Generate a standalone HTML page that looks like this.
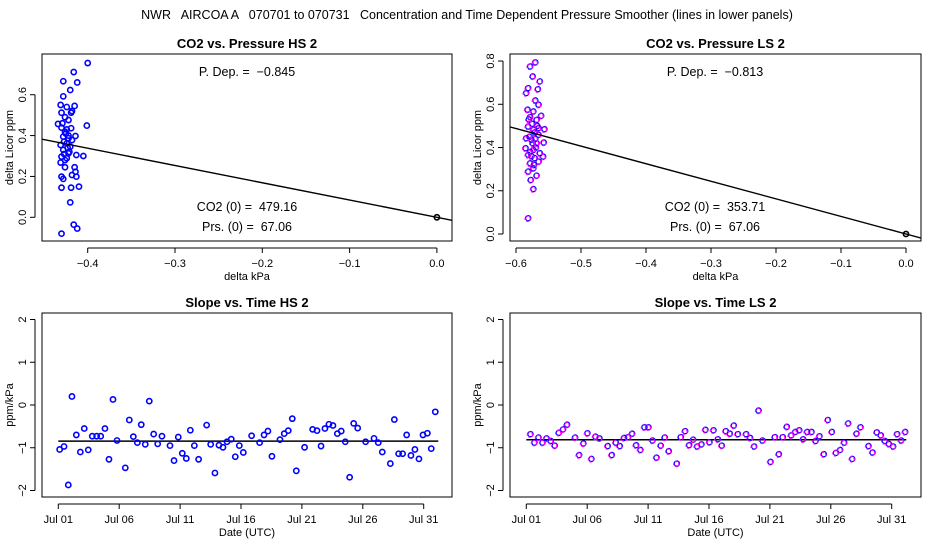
<!DOCTYPE html>
<html><head><meta charset="utf-8"><style>
body{margin:0;background:#fff}
svg{display:block;font-family:"Liberation Sans",sans-serif}
</style></head><body>
<svg id="c" width="936" height="540" xmlns="http://www.w3.org/2000/svg">
<rect width="936" height="540" fill="#fff"/>
<text x="467" y="19" text-anchor="middle" font-size="12.5" style="white-space:pre">NWR   AIRCOA A   070701 to 070731   Concentration and Time Dependent Pressure Smoother (lines in lower panels)</text>
</svg>
<script>
// Top-left: CO2 vs Pressure HS 2
const hsPx=[-0.400,-0.416,-0.428,-0.412,-0.420,-0.428,-0.431,-0.415,-0.424,-0.430,-0.419,-0.426,-0.422,-0.434,-0.401,-0.430,-0.419,-0.426,-0.414,-0.428,-0.422,-0.418,-0.431,-0.424,-0.420,-0.428,-0.422,-0.430,-0.413,-0.405,-0.424,-0.431,-0.426,-0.415,-0.414,-0.418,-0.413,-0.430,-0.428,-0.430,-0.419,-0.410,-0.420,-0.416,-0.412,-0.430,-0.425,-0.427,-0.423,-0.421,-0.426,-0.424,-0.429,-0.418,-0.422,-0.427];
const hsPy=[0.755,0.711,0.666,0.660,0.623,0.592,0.550,0.545,0.540,0.512,0.512,0.490,0.476,0.457,0.449,0.439,0.436,0.419,0.398,0.395,0.387,0.378,0.354,0.362,0.346,0.330,0.313,0.297,0.305,0.300,0.289,0.268,0.245,0.245,0.223,0.207,0.199,0.199,0.188,0.145,0.145,0.150,0.073,-0.036,-0.055,-0.080,0.410,0.370,0.340,0.320,0.280,0.430,0.460,0.520,0.400,0.310];
const hsSlope=-0.845;
// Top-right: CO2 vs Pressure LS 2
const lsPx=[-0.571,-0.579,-0.575,-0.564,-0.582,-0.585,-0.567,-0.571,-0.566,-0.583,-0.574,-0.562,-0.579,-0.569,-0.557,-0.582,-0.574,-0.566,-0.585,-0.577,-0.569,-0.558,-0.586,-0.574,-0.564,-0.582,-0.559,-0.572,-0.566,-0.579,-0.574,-0.582,-0.569,-0.578,-0.574,-0.582,-0.576,-0.572,-0.580,-0.568,-0.575,-0.579,-0.571,-0.577,-0.570,-0.581,-0.566,-0.573];
const lsPy=[0.794,0.775,0.729,0.706,0.675,0.652,0.670,0.618,0.598,0.575,0.567,0.547,0.541,0.528,0.485,0.497,0.482,0.459,0.443,0.436,0.420,0.423,0.397,0.389,0.374,0.366,0.358,0.351,0.335,0.327,0.304,0.289,0.270,0.250,0.208,0.073,0.510,0.470,0.450,0.500,0.420,0.380,0.440,0.360,0.400,0.530,0.490,0.320];
const lsSlope=-0.813;
// Bottom-left: slope vs time HS 2
const hsDay=[1.11,1.47,1.82,2.12,2.48,2.81,3.13,3.46,3.79,4.15,4.48,4.83,5.16,5.49,5.82,6.50,6.83,7.16,7.49,7.81,8.14,8.47,8.83,9.16,9.51,10.17,10.50,10.85,11.18,11.51,11.84,12.17,12.52,13.18,13.51,13.86,14.19,14.52,14.85,15.20,15.53,15.86,16.19,16.87,17.53,17.89,18.21,18.54,19.20,19.55,19.88,20.21,20.54,21.22,21.88,22.24,22.57,22.89,23.22,23.55,23.91,24.23,24.56,24.92,25.25,25.58,26.23,26.92,27.27,27.60,28.26,28.59,28.94,29.27,29.60,29.95,30.28,30.61,30.94,31.30,31.62,31.95];
const hsVal=[-1.04,-0.97,-1.87,0.2,-0.7,-1.1,-0.55,-1.05,-0.73,-0.73,-0.73,-0.55,-1.27,0.13,-0.83,-1.47,-0.35,-0.74,-0.88,-0.46,-0.92,0.09,-0.68,-0.91,-0.73,-0.95,-1.3,-0.75,-1.13,-1.25,-0.59,-0.95,-1.27,-0.47,-0.92,-1.59,-0.94,-0.99,-0.86,-0.8,-1.21,-0.95,-1.11,-0.72,-0.88,-0.7,-0.61,-1.2,-0.81,-0.67,-0.6,-0.32,-1.54,-0.99,-0.57,-0.6,-0.96,-0.55,-0.45,-0.48,-0.67,-0.61,-0.86,-1.69,-0.43,-0.54,-0.86,-0.78,-0.88,-1.1,-1.37,-0.34,-1.14,-1.14,-0.7,-1.18,-1.04,-1.26,-0.7,-0.66,-1.02,-0.16];
// Bottom-right: slope vs time LS 2
const lsDay=[1.30,1.63,1.96,2.29,2.62,2.97,3.30,3.63,3.98,4.31,4.97,5.30,5.65,5.98,6.31,6.64,6.97,7.65,7.98,8.31,8.64,8.99,9.32,9.65,9.98,10.33,10.66,10.99,11.32,11.65,12.00,12.33,12.66,13.32,13.65,14.00,14.33,14.66,14.99,15.34,15.67,16.00,16.33,16.69,17.01,17.34,17.67,18.00,18.33,19.01,19.34,19.67,20.03,20.35,21.01,21.37,21.70,22.02,22.35,22.71,23.04,23.37,23.69,24.02,24.38,24.71,25.03,25.39,25.72,26.05,26.38,26.73,27.06,27.39,27.72,28.07,28.40,29.06,29.39,29.74,30.07,30.40,30.73,31.08,31.41,31.74,32.07];
const lsVal=[-0.68,-0.88,-0.76,-0.88,-0.78,-0.84,-0.95,-0.65,-0.57,-0.46,-0.76,-1.17,-0.9,-0.66,-1.26,-0.74,-0.78,-0.96,-1.17,-0.88,-0.96,-0.77,-0.75,-0.67,-0.94,-1.05,-0.52,-0.52,-0.83,-1.23,-0.95,-0.76,-1.08,-1.37,-0.75,-0.61,-0.94,-0.81,-0.97,-0.92,-0.58,-0.87,-0.59,-0.8,-0.95,-0.61,-0.67,-0.48,-0.68,-0.68,-0.77,-0.97,-0.13,-0.83,-1.33,-0.75,-1.15,-0.75,-0.51,-0.71,-0.63,-0.59,-0.8,-0.63,-0.63,-0.84,-0.73,-1.15,-0.35,-0.63,-1.12,-1.05,-0.88,-0.43,-1.26,-0.67,-0.52,-0.96,-1.11,-0.64,-0.71,-0.84,-0.91,-0.97,-0.68,-0.83,-0.63];
const hsTicksX=[-0.4,-0.3,-0.2,-0.1,0.0], hsTicksY=[0.0,0.2,0.4,0.6];
const lsTicksX=[-0.6,-0.5,-0.4,-0.3,-0.2,-0.1,0.0], lsTicksY=[0.0,0.2,0.4,0.6,0.8];
const dateTicks=[1,6,11,16,21,26,31], dateLabels=["Jul 01","Jul 06","Jul 11","Jul 16","Jul 21","Jul 26","Jul 31"];
const slopeTicks=[-2,-1,0,1,2];

const svg=document.getElementById('c');
const NS='http://www.w3.org/2000/svg';
function mk(tag,attrs,parent){const e=document.createElementNS(NS,tag);for(const k in attrs)e.setAttribute(k,attrs[k]);(parent||svg).appendChild(e);return e;}
function txt(x,y,s,attrs,parent){const e=mk('text',Object.assign({x:x,y:y},attrs||{}),parent);e.textContent=s;return e;}

function panel(o){
  const g=mk('g',{});
  
  
  const sx=v=>o.x0+(v-o.xa)*o.kx, sy=v=>o.y0-(v-o.ya)*o.ky;
  const box=mk('rect',{x:o.L,y:o.T,width:o.R-o.L,height:o.B-o.T,fill:'none',stroke:'#000','stroke-width':1},g);
  
  
  const t=txt((o.L+o.R)/2,o.T-6,o.title,{'text-anchor':'middle','font-size':13,'font-weight':'bold'},g);
  
  
  const xt=o.xticks, xl=o.xlabels||xt.map(v=>v.toFixed(1).replace('-','\u2212'));
  mk('line',{x1:sx(xt[0]),x2:sx(xt[xt.length-1]),y1:o.B+7,y2:o.B+7,stroke:'#000'},g);
  xt.forEach((v,i)=>{
    mk('line',{x1:sx(v),x2:sx(v),y1:o.B+7,y2:o.B+12,stroke:'#000'},g);
    const l=txt(sx(v),o.B+26,xl[i],{'text-anchor':'middle','font-size':11},g);
    
    
  });
  const xa=txt((o.L+o.R)/2,o.B+39,o.xtitle,{'text-anchor':'middle','font-size':11},g);
  
  
  const yt=o.yticks;
  mk('line',{x1:o.L-7,x2:o.L-7,y1:sy(yt[0]),y2:sy(yt[yt.length-1]),stroke:'#000'},g);
  yt.forEach(v=>{
    mk('line',{x1:o.L-12,x2:o.L-7,y1:sy(v),y2:sy(v),stroke:'#000'},g);
    const s=o.yfmt?o.yfmt(v):String(v).replace('-','\u2212');
    const l=txt(0,0,s,{'text-anchor':'middle','font-size':11,transform:`translate(${o.L-16},${sy(v)}) rotate(-90)`},g);
    
    
  });
  const ya=txt(0,0,o.ytitle,{'text-anchor':'middle','font-size':11,transform:`translate(${o.L-29},${(o.T+o.B)/2}) rotate(-90)`},g);
  
  
  const cp=mk('clipPath',{id:'cp'+o.name},g);
  mk('rect',{x:o.L,y:o.T,width:o.R-o.L,height:o.B-o.T},cp);
  const pg=mk('g',{'clip-path':`url(#cp${o.name})`},g);
  return {g,pg,sx,sy};
}
function pts(p,xs,ys,ls){
  xs.forEach((x,i)=>{
    if(ls){
      const a=mk('circle',{cx:p.sx(x)+0.5,cy:p.sy(ys[i]),r:2.6,fill:'none',stroke:'#0000ff','stroke-width':1.3},p.pg);
      
      
      mk('circle',{cx:p.sx(x),cy:p.sy(ys[i])+0.5,r:2.6,fill:'none',stroke:'#ff00ff','stroke-width':1.3,'stroke-dasharray':'2 1.5'},p.pg);
    } else {
      const a=mk('circle',{cx:p.sx(x),cy:p.sy(ys[i]),r:2.6,fill:'none',stroke:'#0000ff','stroke-width':1.6},p.pg);
      
      
    }
  });
}
function scatterPanel(name,title,L,R,x0,kx,y0,ky,xticks,yticks,px,py,slope,cx,ls,co2){
  const p=panel({name,title,L,R,T:54,B:241,x0,xa:xticks[0],kx,y0,ya:0,ky,xticks,yticks,xtitle:'delta kPa',ytitle:'delta Licor ppm',yfmt:v=>v.toFixed(1)});
  pts(p,px,py,ls);
  const fl=mk('line',{x1:p.sx(-1),y1:p.sy(-1*slope),x2:p.sx(0.1),y2:p.sy(0.1*slope),stroke:'#000','stroke-width':1.4},p.pg);
  
  
  const o=mk('circle',{cx:p.sx(0),cy:p.sy(0),r:2.6,fill:'none',stroke:'#000','stroke-width':1.6},p.pg);
  
  
  const a=txt(cx,76,'P. Dep. =  \u2212'+Math.abs(slope).toFixed(3),{'text-anchor':'middle','font-size':12.5,style:'white-space:pre'},p.g);
  
  
  const b=txt(cx,211,'CO2 (0) =  '+co2,{'text-anchor':'middle','font-size':12.5,style:'white-space:pre'},p.g);
  
  
  const c=txt(cx,231,'Prs. (0) =  67.06',{'text-anchor':'middle','font-size':12.5,style:'white-space:pre'},p.g);
  
  
}
scatterPanel('co2-pressure-hs2','CO2 vs. Pressure HS 2',42,452,87.7,873,217.3,204.3,hsTicksX,hsTicksY,hsPx,hsPy,hsSlope,247,false,'479.16');
scatterPanel('co2-pressure-ls2','CO2 vs. Pressure LS 2',510,921,516,650,234,216.2,lsTicksX,lsTicksY,lsPx,lsPy,lsSlope,715,true,'353.71');

function timePanel(name,title,L,R,x0,days,vals,slope,ls){
  const p=panel({name,title,L,R,T:313,B:497,x0,xa:1,kx:12.18,y0:405,ya:0,ky:42.75,xticks:dateTicks,xlabels:dateLabels,yticks:slopeTicks,xtitle:'Date (UTC)',ytitle:'ppm/kPa'});
  const ml=mk('line',{x1:p.sx(1),x2:p.sx(32.2),y1:p.sy(slope),y2:p.sy(slope),stroke:'#000','stroke-width':1.4},p.pg);
  
  
  pts(p,days,vals,ls);
}
timePanel('slope-time-hs2','Slope vs. Time HS 2',42,452,58.3,hsDay,hsVal,hsSlope,false);
timePanel('slope-time-ls2','Slope vs. Time LS 2',510,921,526.3,lsDay,lsVal,lsSlope,true);
</script>
</body></html>
